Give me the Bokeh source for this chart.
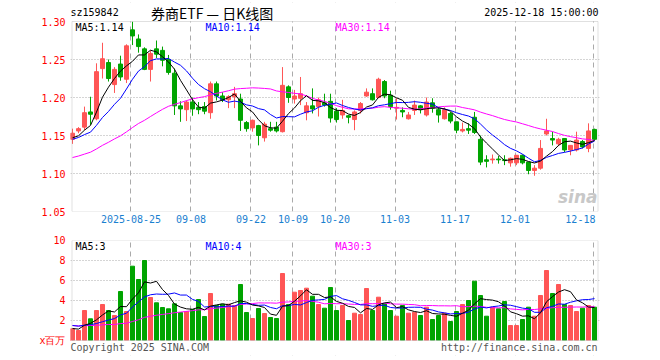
import numpy as np
import pandas as pd
from bokeh.plotting import figure
from bokeh.models import (ColumnDataSource, Range1d, FixedTicker, Label,
                          NumeralTickFormatter, BoxAnnotation)
from bokeh.layouts import column
from bokeh.embed import file_html
from bokeh.resources import INLINE

# ---------------- data ----------------
open_ = [1.145, 1.156, 1.161, 1.181, 1.172, 1.238, 1.246, 1.217, 1.244, 1.224,
         1.289, 1.277, 1.264, 1.237, 1.264, 1.262, 1.250, 1.232, 1.189, 1.184,
         1.194, 1.187, 1.188, 1.180, 1.218, 1.202, 1.197, 1.201, 1.198, 1.167,
         1.160, 1.163, 1.147, 1.159, 1.161, 1.155, 1.214, 1.198, 1.199, 1.180,
         1.189, 1.188, 1.193, 1.195, 1.182, 1.177, 1.176, 1.171, 1.183, 1.202,
         1.205, 1.200, 1.221, 1.203, 1.186, 1.183, 1.172, 1.183, 1.189, 1.177,
         1.193, 1.184, 1.172, 1.179, 1.168, 1.156, 1.159, 1.174, 1.145, 1.118,
         1.118, 1.119, 1.118, 1.114, 1.114, 1.124, 1.115, 1.104, 1.107, 1.152,
         1.146, 1.139, 1.146, 1.131, 1.131, 1.142, 1.133, 1.158]
high = [1.159, 1.161, 1.188, 1.201, 1.245, 1.272, 1.250, 1.240, 1.255, 1.270,
        1.300, 1.283, 1.266, 1.262, 1.275, 1.267, 1.256, 1.238, 1.195, 1.196,
        1.200, 1.194, 1.194, 1.221, 1.221, 1.207, 1.203, 1.214, 1.205, 1.169,
        1.171, 1.164, 1.168, 1.168, 1.168, 1.240, 1.216, 1.210, 1.227, 1.194,
        1.212, 1.200, 1.205, 1.205, 1.186, 1.197, 1.177, 1.183, 1.194, 1.212,
        1.212, 1.226, 1.223, 1.209, 1.199, 1.187, 1.181, 1.196, 1.190, 1.200,
        1.199, 1.187, 1.187, 1.181, 1.168, 1.167, 1.166, 1.181, 1.150, 1.124,
        1.125, 1.123, 1.124, 1.121, 1.124, 1.125, 1.115, 1.111, 1.144, 1.172,
        1.155, 1.147, 1.146, 1.137, 1.155, 1.144, 1.166, 1.159]
low = [1.139, 1.153, 1.157, 1.164, 1.170, 1.225, 1.221, 1.206, 1.222, 1.219,
       1.269, 1.259, 1.236, 1.221, 1.252, 1.241, 1.230, 1.177, 1.168, 1.169,
       1.176, 1.178, 1.178, 1.172, 1.196, 1.194, 1.186, 1.186, 1.156, 1.155,
       1.155, 1.137, 1.142, 1.155, 1.154, 1.154, 1.193, 1.192, 1.190, 1.170,
       1.179, 1.175, 1.188, 1.167, 1.167, 1.172, 1.166, 1.157, 1.179, 1.201,
       1.196, 1.199, 1.199, 1.184, 1.171, 1.174, 1.171, 1.177, 1.179, 1.175,
       1.180, 1.167, 1.171, 1.166, 1.153, 1.154, 1.152, 1.152, 1.111, 1.108,
       1.113, 1.113, 1.111, 1.109, 1.111, 1.112, 1.099, 1.097, 1.105, 1.150,
       1.137, 1.136, 1.128, 1.124, 1.129, 1.133, 1.128, 1.143]
close = [1.153, 1.159, 1.180, 1.178, 1.234, 1.251, 1.225, 1.237, 1.227, 1.268,
         1.281, 1.267, 1.237, 1.258, 1.257, 1.249, 1.233, 1.189, 1.185, 1.194,
         1.185, 1.184, 1.182, 1.218, 1.202, 1.197, 1.201, 1.205, 1.170, 1.159,
         1.170, 1.150, 1.165, 1.157, 1.156, 1.216, 1.200, 1.202, 1.205, 1.189,
         1.185, 1.197, 1.190, 1.173, 1.171, 1.183, 1.174, 1.181, 1.192, 1.207,
         1.197, 1.224, 1.202, 1.188, 1.187, 1.181, 1.177, 1.190, 1.184, 1.194,
         1.186, 1.177, 1.184, 1.169, 1.157, 1.158, 1.157, 1.154, 1.115, 1.116,
         1.119, 1.118, 1.117, 1.120, 1.124, 1.114, 1.104, 1.107, 1.133, 1.156,
         1.144, 1.145, 1.131, 1.137, 1.144, 1.135, 1.156, 1.145]
# volume, millions of shares
volume = [1.17, 1.0, 3.0, 2.17, 3.0, 3.6, 3.0, 2.5, 4.9, 2.9,
          7.43, 6.1, 8.0, 4.3, 3.77, 3.3, 3.17, 3.67, 2.8, 2.9,
          3.1, 4.1, 2.4, 4.7, 3.5, 3.63, 3.63, 3.5, 5.6, 2.8,
          2.2, 3.2, 2.7, 2.3, 2.2, 6.7, 3.6, 4.83, 5.0, 5.23,
          4.43, 3.6, 3.23, 5.3, 3.0, 3.5, 2.0, 2.73, 2.6, 5.2,
          3.0, 4.33, 3.67, 3.0, 2.43, 3.5, 2.73, 2.83, 2.5, 3.33,
          2.1, 2.5, 2.73, 1.9, 2.9, 3.6, 4.0, 5.93, 4.5, 2.43,
          3.33, 3.17, 3.9, 1.5, 1.5, 2.1, 3.33, 2.43, 4.5, 7.0,
          4.7, 5.6, 3.6, 3.5, 2.9, 3.23, 3.5, 3.33]
# sessions before the first visible one (only feed the moving averages)
prior_close = [1.100, 1.104, 1.102, 1.106, 1.108, 1.105, 1.103, 1.107, 1.110, 1.110,
               1.108, 1.111, 1.109, 1.112, 1.110, 1.113, 1.112, 1.115, 1.117, 1.118,
               1.135, 1.142, 1.146, 1.144, 1.148, 1.146, 1.143, 1.147, 1.146]
prior_volume = [2.0, 2.3, 1.9, 2.4, 2.2, 2.0, 2.5, 2.1, 1.9, 2.2,
                0.9, 0.8, 1.0, 0.7, 0.9, 0.8, 0.9, 0.8, 0.9, 0.8,
                1.7, 1.9, 1.8, 1.8, 1.8, 1.3, 1.1, 1.2, 1.23]
tick_index = [10, 20, 30, 37, 44, 54, 64, 74, 87]
tick_labels = ["2025-08-25", "09-08", "09-22", "10-09", "10-20", "11-03", "11-17", "12-01", "12-18"]
price_ticks = [1.05, 1.10, 1.15, 1.20, 1.25, 1.30]
volume_ticks = [0, 2, 4, 6, 8, 10]
code = "sz159842"
title = "券商ETF — 日K线图"
stamp = "2025-12-18 15:00:00"

# ---------------- derived ----------------
n = len(close)
idx = np.arange(n)
o = np.array(open_); c = np.array(close)
full_c = pd.Series(prior_close + close)
full_v = pd.Series(prior_volume + volume)
k = len(prior_close)
ma = {w: full_c.rolling(w).mean().values[k:] for w in (5, 10, 30)}
vma = {w: full_v.rolling(w).mean().values[k:] for w in (5, 10, 30)}

RED = "#ff5555"
GREEN = "#00a400"
colors = np.where(c >= o, RED, GREEN)
src = ColumnDataSource(dict(
    x=idx, h=high, l=low, top=np.maximum(o, c), bottom=np.minimum(o, c),
    color=colors, vol=volume,
    ma5=ma[5], ma10=ma[10], ma30=ma[30],
    vma5=vma[5], vma10=vma[10], vma30=vma[30]))

MONO = "DejaVu Sans Mono"
grid_pos = [t - 0.25 for t in tick_index]
label_pos = grid_pos[:-1] + [grid_pos[-1] - 2.1]
XR = Range1d(-0.333, 87.833)      # frame 70..599 px, 6 px per session
BOX_L, BOX_R = -0.083, 87.583     # panel border at 71.5 / 597.5 px


def style(fig):
    fig.outline_line_color = None
    fig.background_fill_color = "white"
    fig.border_fill_color = "white"
    for ax in list(fig.xaxis) + list(fig.yaxis):
        ax.axis_line_color = None
        ax.major_tick_line_color = None
        ax.minor_tick_line_color = None
        ax.major_tick_out = 0
        ax.major_tick_in = 0
        ax.minor_tick_out = 0
        ax.major_label_text_font = MONO
        ax.major_label_text_font_size = "10px"
    fig.xgrid.ticker = FixedTicker(ticks=grid_pos)
    fig.xgrid.grid_line_color = "#aaaaaa"
    fig.xgrid.grid_line_dash = "5 4"
    fig.ygrid.grid_line_color = "#aaaaaa"
    fig.ygrid.grid_line_dash = "1 2"


def lab(fig, x, y, text, color="black", align="left", font=MONO, size="10px", style_="normal"):
    fig.add_layout(Label(x=x, y=y, text=text, text_color=color, text_align=align,
                         text_baseline="middle", text_font=font, text_font_size=size,
                         text_font_style=style_))


# ---------------- price panel ----------------
PPX = 760.0  # px per price unit
p = figure(width=660, height=229, x_range=XR,
           y_range=Range1d(price_ticks[0], price_ticks[-1] + 19 / PPX),
           output_backend="svg", toolbar_location=None,
           min_border_left=70, min_border_right=61, min_border_top=2, min_border_bottom=18)
p.segment(x0="x", y0="l", x1="x", y1="h", line_color="color", line_width=1, source=src)
p.vbar(x="x", width=0.67, top="top", bottom="bottom", fill_color="color",
       line_color="color", line_width=1, source=src)
p.line("x", "ma30", line_color="#ff00ff", line_width=1, source=src)
p.line("x", "ma10", line_color="#0000ff", line_width=1, source=src)
p.line("x", "ma5", line_color="black", line_width=1, source=src)
style(p)
# blank header strip above the panel, then the panel border
p.add_layout(BoxAnnotation(bottom=price_ticks[-1], fill_color="white", fill_alpha=1,
                           line_alpha=0))
p.add_layout(BoxAnnotation(left=BOX_L, right=BOX_R, bottom=price_ticks[0], top=price_ticks[-1],
                           fill_alpha=0, line_color="#999999", line_width=1))
p.yaxis.ticker = FixedTicker(ticks=price_ticks)
p.yaxis.formatter = NumeralTickFormatter(format="0.00")
p.yaxis.major_label_text_color = "red"
p.yaxis.major_label_standoff = 5
p.ygrid.ticker = FixedTicker(ticks=price_ticks[1:-1])
p.xaxis.ticker = FixedTicker(ticks=label_pos)
p.xaxis.major_label_overrides = {pos: t for pos, t in zip(label_pos, tick_labels)}
p.xaxis.major_label_text_color = "#1a80d0"
p.xaxis.major_label_standoff = 3

ytop = 1.2925
lab(p, 0.5, ytop, f"MA5:{ma[5][-1]:.2f}", "black")
lab(p, 22.17, ytop, f"MA10:{ma[10][-1]:.2f}", "#0000ff")
lab(p, 43.83, ytop, f"MA30:{ma[30][-1]:.2f}", "#ff00ff")
yhead = price_ticks[-1] + 9 / PPX
lab(p, -0.333, yhead, code, "black")
lab(p, 13.1, yhead, title, "black", font="Noto Sans CJK SC", size="14px")
lab(p, 87.67, yhead, stamp, "black", align="right")
lab(p, 87.5, 1.0688, "sina", "#c8c8c8", align="right", font="DejaVu Sans", size="17px",
    style_="bold italic")

# ---------------- volume panel ----------------
v = figure(width=660, height=127, x_range=XR,
           y_range=Range1d(volume_ticks[0] - 1.5, volume_ticks[-1]),
           output_backend="svg", toolbar_location=None,
           min_border_left=70, min_border_right=61, min_border_top=11, min_border_bottom=1)
v.vbar(x="x", width=0.67, top="vol", bottom=0, fill_color="color",
       line_color="color", line_width=1, source=src)
v.line("x", "vma30", line_color="#ff00ff", line_width=1, source=src)
v.line("x", "vma10", line_color="#0000ff", line_width=1, source=src)
v.line("x", "vma5", line_color="black", line_width=1, source=src)
style(v)
v.add_layout(BoxAnnotation(top=volume_ticks[0], fill_color="white", fill_alpha=1,
                           line_alpha=0))
v.add_layout(BoxAnnotation(left=BOX_L, right=BOX_R, bottom=volume_ticks[0], top=volume_ticks[-1],
                           fill_alpha=0, line_color="#999999", line_width=1))
v.xaxis.visible = False
v.yaxis.ticker = FixedTicker(ticks=volume_ticks)
v.yaxis.major_label_overrides = {0: "x百万"}
v.yaxis.major_label_text_color = "red"
v.yaxis.major_label_standoff = 5
v.ygrid.ticker = FixedTicker(ticks=volume_ticks[1:-1])

vtop = 9.4
lab(v, 0.5, vtop, f"MA5:{vma[5][-1]:.0f}", "black")
lab(v, 22.17, vtop, f"MA10:{vma[10][-1]:.0f}", "#0000ff")
lab(v, 43.83, vtop, f"MA30:{vma[30][-1]:.0f}", "#ff00ff")
lab(v, -0.333, -0.7, "Copyright 2025 SINA.COM", "#555555")
lab(v, 87.5, -0.7, "http://finance.sina.com.cn", "#555555", align="right")

layout = column(p, v, spacing=0)
open("out.html", "w").write(file_html(layout, INLINE))
